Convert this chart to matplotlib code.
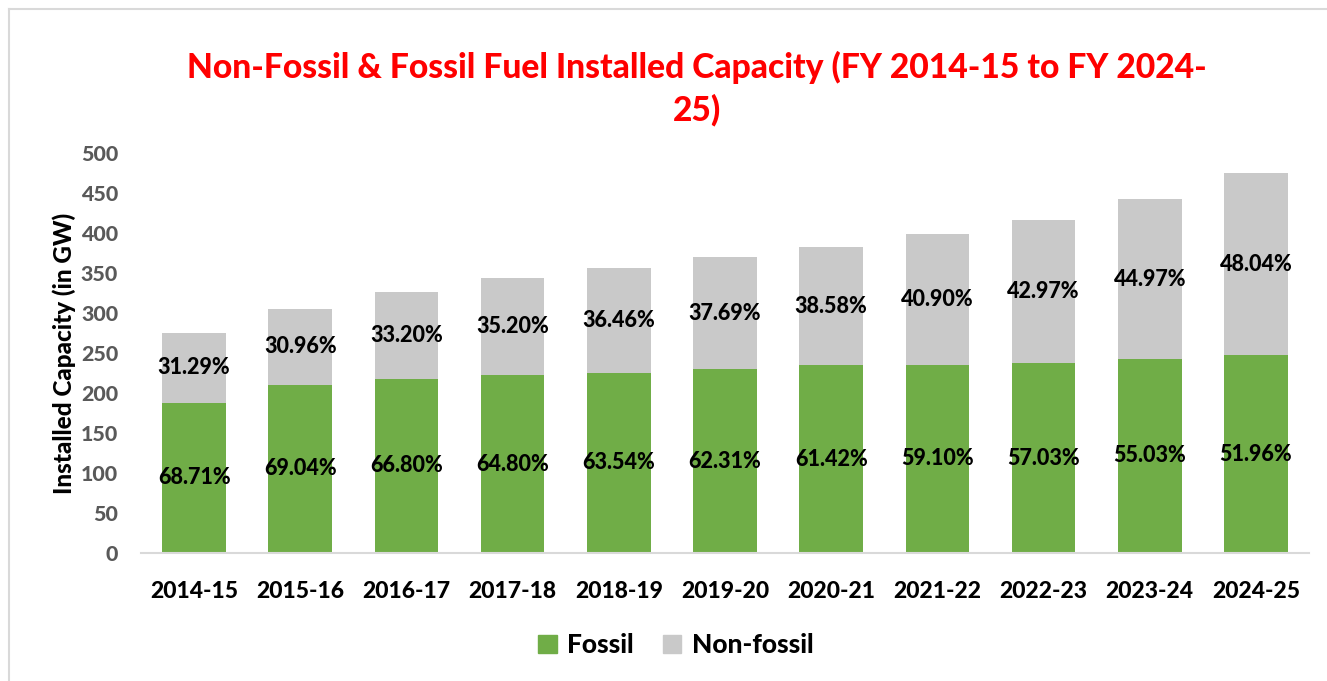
import matplotlib
matplotlib.use("Agg")
import matplotlib.pyplot as plt
from matplotlib.patches import Patch
from matplotlib.lines import Line2D

years = ["2014-15", "2015-16", "2016-17", "2017-18", "2018-19", "2019-20",
         "2020-21", "2021-22", "2022-23", "2023-24", "2024-25"]
fossil = [188, 210.5, 218, 222, 225.5, 230, 234.5, 235.5, 237, 243, 247]
non_fossil = [87, 94.5, 108.5, 121.5, 130.5, 139.5, 147.5, 163.5, 179, 199, 228]
fossil_pct = ["68.71%", "69.04%", "66.80%", "64.80%", "63.54%", "62.31%",
              "61.42%", "59.10%", "57.03%", "55.03%", "51.96%"]
non_fossil_pct = ["31.29%", "30.96%", "33.20%", "35.20%", "36.46%", "37.69%",
                  "38.58%", "40.90%", "42.97%", "44.97%", "48.04%"]
y_ticks = [0, 50, 100, 150, 200, 250, 300, 350, 400, 450, 500]

plt.rcParams['font.family'] = ['Lato', 'DejaVu Sans']
WT = 900

W, H = 1327, 681
fig = plt.figure(figsize=(W / 100, H / 100), dpi=100)
ax = fig.add_axes([141 / W, 1 - 553 / H, (1309 - 141) / W, (553 - 153) / H])

green = "#70AD47"
gray = "#C9C9C9"
x = list(range(len(years)))
b1 = ax.bar(x, fossil, width=0.6, color=green, zorder=2)
b2 = ax.bar(x, non_fossil, width=0.6, bottom=fossil, color=gray, zorder=2)
ax.bar_label(b1, labels=fossil_pct, label_type="center", fontsize=15.5,
             fontweight=WT, color="black")
ax.bar_label(b2, labels=non_fossil_pct, label_type="center", fontsize=15.5,
             fontweight=WT, color="black")

ax.set_xlim(-0.5, len(years) - 0.5)
ax.set_ylim(0, 500)
ax.set_yticks(y_ticks)
ax.set_yticklabels([str(v) for v in y_ticks], fontsize=15.4, fontweight=WT,
                   color="#595959")
ax.set_xticks(x)
ax.set_xticklabels(years, fontsize=16.5, fontweight=WT, color="black")
ax.tick_params(axis="both", length=0)
ax.tick_params(axis="y", pad=16.5)
ax.tick_params(axis="x", pad=20.5)
for s in ["top", "right", "left"]:
    ax.spines[s].set_visible(False)
ax.spines["bottom"].set_color("#D9D9D9")
ax.spines["bottom"].set_linewidth(1.5)
ax.set_ylabel("Installed Capacity (in GW)", fontsize=17.5, fontweight=WT,
              color="black", labelpad=3.5)

fig.text(697 / W, 1 - 67 / H,
         "Non-Fossil & Fossil Fuel Installed Capacity (FY 2014-15 to FY 2024-",
         ha="center", va="center", fontsize=24.2, fontweight=WT, color="#FF0000")
fig.text(697 / W, 1 - 110 / H, "25)", ha="center", va="center", fontsize=24.2,
         fontweight=WT, color="#FF0000")

handles = [Patch(color=green, label="Fossil"), Patch(color=gray, label="Non-fossil")]
fig.legend(handles=handles, loc="center", bbox_to_anchor=(676 / W, 1 - 645 / H),
           ncol=2, frameon=False, prop={"weight": WT, "size": 19},
           handlelength=0.7, handleheight=0.7, handletextpad=0.4, columnspacing=1.1)

fig.add_artist(Line2D([8.5 / W, 8.5 / W], [0, 1 - 8.5 / H], transform=fig.transFigure,
                      color="#D9D9D9", lw=1.5))
fig.add_artist(Line2D([8.5 / W, 1], [1 - 8.5 / H, 1 - 8.5 / H], transform=fig.transFigure,
                      color="#D9D9D9", lw=1.5))

fig.savefig("out.png", dpi=100)
